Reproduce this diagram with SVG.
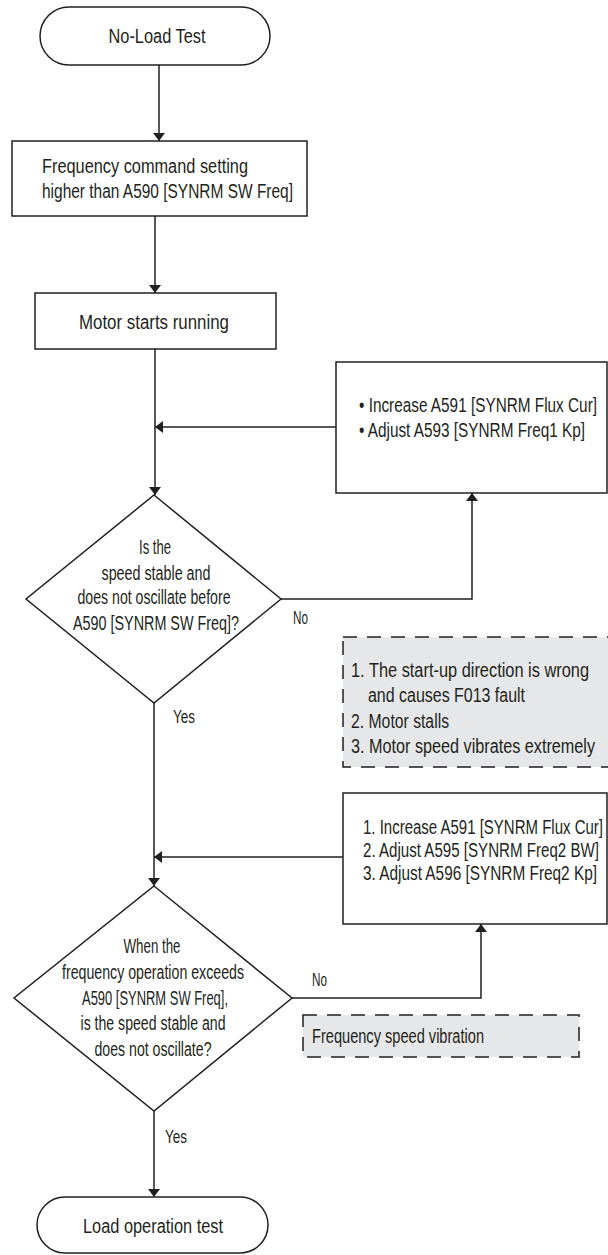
<svg xmlns="http://www.w3.org/2000/svg" width="608" height="1255" viewBox="0 0 608 1255">
<defs>
<style>
.n{fill:#fff;stroke:#231f20;stroke-width:1.5}
.d{fill:#e6e7e8;stroke:#231f20;stroke-width:1.5;stroke-dasharray:14 10}
.c{fill:none;stroke:#231f20;stroke-width:1.5}
text{font-family:"Liberation Sans",Arial,sans-serif;font-size:20px;fill:#231f20}
.m{text-anchor:middle}
.s{font-size:18px}
</style>
<marker id="a" viewBox="0 0 10 10" refX="10" refY="5" markerWidth="8" markerHeight="12" markerUnits="userSpaceOnUse" orient="auto" preserveAspectRatio="none">
<path d="M0,0 L10,5 L0,10 z" fill="#231f20"/>
</marker>
</defs>
<g id="connectors">
<path class="c" d="M159,65 V141" marker-end="url(#a)"/>
<path class="c" d="M155,216 V293" marker-end="url(#a)"/>
<path class="c" d="M155,349 V495" marker-end="url(#a)"/>
<path class="c" d="M336,427 H155" marker-end="url(#a)"/>
<path class="c" d="M281,599 H472 V493" marker-end="url(#a)"/>
<path class="c" d="M154,703 V886" marker-end="url(#a)"/>
<path class="c" d="M343,857 H154" marker-end="url(#a)"/>
<path class="c" d="M292,998 H481 V924" marker-end="url(#a)"/>
<path class="c" d="M154,1111 V1197" marker-end="url(#a)"/>
<text class="s" x="293" y="624" textLength="15" lengthAdjust="spacingAndGlyphs">No</text>
<text class="s" x="173" y="723" textLength="22" lengthAdjust="spacingAndGlyphs">Yes</text>
<text class="s" x="312" y="986" textLength="15" lengthAdjust="spacingAndGlyphs">No</text>
<text class="s" x="165" y="1143" textLength="22" lengthAdjust="spacingAndGlyphs">Yes</text>
</g>
<g id="start">
<rect class="n" x="40" y="7" width="230" height="58" rx="29"/>
<text class="m" x="157" y="43" textLength="97" lengthAdjust="spacingAndGlyphs">No-Load Test</text>
</g>
<g id="freq-cmd">
<rect class="n" x="12" y="141" width="295" height="75"/>
<text x="42" y="173" textLength="206" lengthAdjust="spacingAndGlyphs">Frequency command setting</text>
<text x="42" y="198" textLength="251" lengthAdjust="spacingAndGlyphs">higher than A590 [SYNRM SW Freq]</text>
</g>
<g id="motor-starts">
<rect class="n" x="35" y="293" width="241" height="56"/>
<text class="m" x="154" y="329" textLength="150" lengthAdjust="spacingAndGlyphs">Motor starts running</text>
</g>
<g id="adjust1">
<rect class="n" x="336" y="362" width="271" height="131"/>
<text x="359" y="412" textLength="238" lengthAdjust="spacingAndGlyphs">• Increase A591 [SYNRM Flux Cur]</text>
<text x="359" y="437" textLength="226" lengthAdjust="spacingAndGlyphs">• Adjust A593 [SYNRM Freq1 Kp]</text>
</g>
<g id="decision1">
<path class="n" d="M154,495 L281,599 L154,703 L26,599 z"/>
<text class="m" x="155" y="554" textLength="32" lengthAdjust="spacingAndGlyphs">Is the</text>
<text class="m" x="156" y="580" textLength="109" lengthAdjust="spacingAndGlyphs">speed stable and</text>
<text class="m" x="154" y="604" textLength="153" lengthAdjust="spacingAndGlyphs">does not oscillate before</text>
<text class="m" x="156" y="630" textLength="166" lengthAdjust="spacingAndGlyphs">A590 [SYNRM SW Freq]?</text>
</g>
<g id="note1">
<rect class="d" x="343" y="637" width="275" height="130"/>
<text x="351" y="677" textLength="238" lengthAdjust="spacingAndGlyphs">1. The start-up direction is wrong</text>
<text x="368" y="702" textLength="157" lengthAdjust="spacingAndGlyphs">and causes F013 fault</text>
<text x="351" y="728" textLength="98" lengthAdjust="spacingAndGlyphs">2. Motor stalls</text>
<text x="351" y="753" textLength="244" lengthAdjust="spacingAndGlyphs">3. Motor speed vibrates extremely</text>
</g>
<g id="adjust2">
<rect class="n" x="343" y="793" width="264" height="131"/>
<text x="363" y="834" textLength="240" lengthAdjust="spacingAndGlyphs">1. Increase A591 [SYNRM Flux Cur]</text>
<text x="363" y="857" textLength="236" lengthAdjust="spacingAndGlyphs">2. Adjust A595 [SYNRM Freq2 BW]</text>
<text x="363" y="880" textLength="234" lengthAdjust="spacingAndGlyphs">3. Adjust A596 [SYNRM Freq2 Kp]</text>
</g>
<g id="decision2">
<path class="n" d="M154,886 L292,998 L154,1111 L14,998 z"/>
<text class="m" x="152" y="953" textLength="57" lengthAdjust="spacingAndGlyphs">When the</text>
<text class="m" x="153" y="979" textLength="182" lengthAdjust="spacingAndGlyphs">frequency operation exceeds</text>
<text class="m" x="155" y="1005" textLength="146" lengthAdjust="spacingAndGlyphs">A590 [SYNRM SW Freq],</text>
<text class="m" x="153" y="1030" textLength="145" lengthAdjust="spacingAndGlyphs">is the speed stable and</text>
<text class="m" x="153" y="1056" textLength="117" lengthAdjust="spacingAndGlyphs">does not oscillate?</text>
</g>
<g id="note2">
<rect class="d" x="303" y="1015" width="276" height="42"/>
<text x="312" y="1043" textLength="172" lengthAdjust="spacingAndGlyphs">Frequency speed vibration</text>
</g>
<g id="end">
<rect class="n" x="37" y="1197" width="231" height="56" rx="28"/>
<text class="m" x="153" y="1233" textLength="140" lengthAdjust="spacingAndGlyphs">Load operation test</text>
</g>
</svg>
